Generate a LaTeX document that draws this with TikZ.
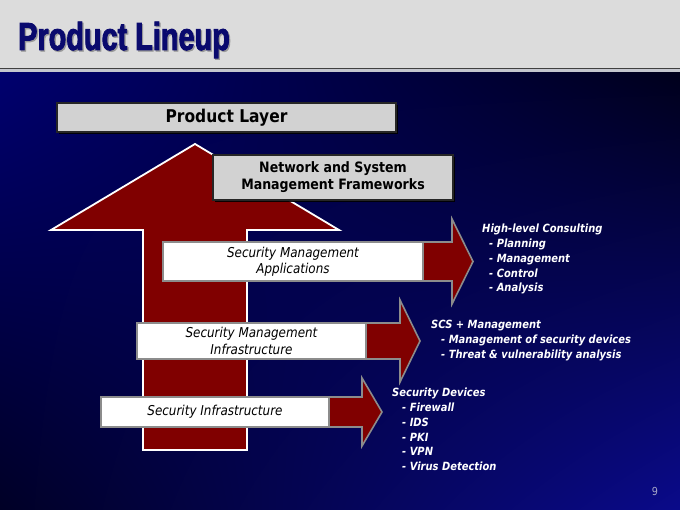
\documentclass[tikz,border=0pt]{standalone}
\usepackage{fontspec}
\setmainfont{DejaVu Sans}[FakeStretch=0.88]
\newfontfamily\titlefont{Liberation Sans}[FakeStretch=0.74,FakeBold=2.2]
\usetikzlibrary{shadows,shadings}
\definecolor{hdr}{HTML}{DCDCDC}
\definecolor{hdrline}{HTML}{404040}
\definecolor{band}{HTML}{C4C6CE}
\definecolor{bgUL}{HTML}{00006E}
\definecolor{bgUR}{HTML}{00001C}
\definecolor{bgLL}{HTML}{000026}
\definecolor{bgLR}{HTML}{0A0A8A}
\definecolor{titleblue}{HTML}{0A0A6E}
\definecolor{arrowred}{HTML}{800000}
\definecolor{boxgray}{HTML}{D2D2D2}
\definecolor{boxedge}{HTML}{8C8C8C}
\definecolor{pagenum}{HTML}{A8A8C8}
\tikzset{
  graybox/.style={draw=black!85, line width=1.2pt, fill=boxgray, font=\bfseries,
    align=center, inner sep=0pt,
    drop shadow={shadow xshift=2pt, shadow yshift=-2pt, fill=black, opacity=0.9}},
  whitebox/.style={draw=boxedge, line width=1.6pt, fill=white, align=center, inner sep=0pt,
    font=\fontsize{13.6}{16.5}\selectfont\itshape},
  uparrow/.style={fill=arrowred, draw=white, line width=1.8pt, line join=miter},
  rarrow/.style={fill=arrowred, draw=boxedge, line width=1.6pt, line join=miter},
  rtext/.style={text=white, inner sep=0pt, anchor=base west,
    font=\fontsize{11.3}{14}\selectfont\bfseries\itshape}
}
\begin{document}
\begin{tikzpicture}[x=1pt,y=-1pt]
\useasboundingbox (0,0) rectangle (680,510);
% header
\fill[hdr] (0,0) rectangle (680,68);
\fill[band] (0,69) rectangle (680,73);
\draw[hdrline, line width=1.4pt] (0,68.3) -- (680,68.3);
\shade[shading=bilinear interpolation, upper left=bgUL, upper right=bgUR, lower left=bgLL, lower right=bgLR] (0,73) rectangle (680,510);
% title
\node[anchor=base west, inner sep=0pt, text=black!40, font=\titlefont\bfseries\fontsize{39}{40}\selectfont] (titleshadow) at (19.3,51.3) {Product Lineup};
\node[anchor=base west, inner sep=0pt, text=titleblue, font=\titlefont\bfseries\fontsize{39}{40}\selectfont] (title) at (18,50) {Product Lineup};
% big up arrow
\draw[uparrow] (143,450) -- (143,230) -- (51,230) -- (195,144) -- (339,230) -- (247,230) -- (247,450) -- cycle;
% top boxes
\node[graybox, minimum width=339, minimum height=29, font=\bfseries\fontsize{17.6}{20}\selectfont] (pl) at (226.5,117.5) {Product Layer};
\node[graybox, minimum width=240, minimum height=45, font=\bfseries\fontsize{14.3}{17}\selectfont] (nsm) at (333,177.5) {Network and System\\Management Frameworks};
% arrow 1
\draw[rarrow] (200,242) -- (452,242) -- (452,219) -- (473,261.5) -- (452,304) -- (452,281) -- (200,281) -- cycle;
\node[whitebox, minimum width=260, minimum height=39] (sma) at (293,261.5) {Security Management\\Applications};
% arrow 2
\draw[rarrow] (180,323) -- (400,323) -- (400,300) -- (420,341) -- (400,382) -- (400,359) -- (180,359) -- cycle;
\node[whitebox, minimum width=229, minimum height=36] (smi) at (251.5,341) {Security Management\\Infrastructure};
% arrow 3
\draw[rarrow] (150,397) -- (362,397) -- (362,378) -- (382,412) -- (362,446) -- (362,427) -- (150,427) -- cycle;
\node[whitebox, minimum width=228, minimum height=30] (si) at (215,412) {Security Infrastructure};
% right texts block 1
\node[rtext] (hc) at (482,233) {High-level Consulting};
\node[rtext] (hc1) at (489,247.7) {- Planning};
\node[rtext] (hc2) at (489,262.4) {- Management};
\node[rtext] (hc3) at (489,277.1) {- Control};
\node[rtext] (hc4) at (489,291.8) {- Analysis};
% block 2
\node[rtext] (scs) at (431,329) {SCS + Management};
\node[rtext] (scs1) at (441,343.7) {- Management of security devices};
\node[rtext] (scs2) at (441,358.4) {- Threat \& vulnerability analysis};
% block 3
\node[rtext] (sd) at (392,397) {Security Devices};
\node[rtext] (sd1) at (402,411.7) {- Firewall};
\node[rtext] (sd2) at (402,426.4) {- IDS};
\node[rtext] (sd3) at (402,441.1) {- PKI};
\node[rtext] (sd4) at (402,455.8) {- VPN};
\node[rtext] (sd5) at (402,470.5) {- Virus Detection};
% page number
\node[anchor=base, inner sep=0pt, text=pagenum, font=\fontsize{11}{12}\selectfont] (pg) at (655,495) {9};
\end{tikzpicture}
\end{document}
